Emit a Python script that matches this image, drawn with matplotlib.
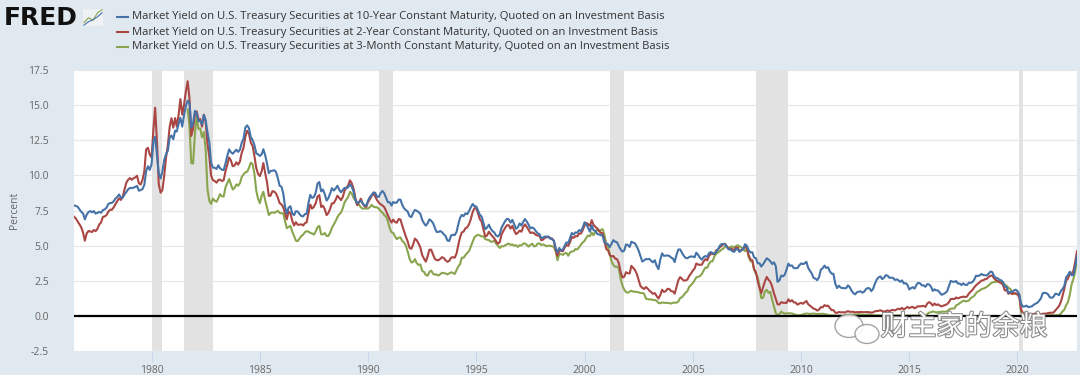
import matplotlib
matplotlib.use("Agg")
import matplotlib.pyplot as plt
import matplotlib.patheffects as pe
from matplotlib.lines import Line2D
from matplotlib.patches import Ellipse
import pandas as pd

plt.rcParams['font.family'] = ['Open Sans', 'Noto Sans CJK SC', 'DejaVu Sans']

# monthly yields, 10-year, Jun 1976 .. Oct 2022
y10 = [
    7.86, 7.83, 7.77, 7.59, 7.41, 7.29, 6.87,
    7.21, 7.39, 7.46, 7.37, 7.46, 7.28, 7.33, 7.40, 7.34, 7.52, 7.58, 7.69,
    7.96, 8.03, 8.04, 8.15, 8.35, 8.46, 8.64, 8.41, 8.42, 8.64, 8.81, 9.01,
    9.10, 9.10, 9.12, 9.18, 9.25, 8.91, 8.95, 9.03, 9.33, 10.30, 10.65, 10.39,
    10.80, 12.41, 12.75, 11.47, 10.18, 9.78, 10.25, 11.10, 11.51, 11.75, 12.68, 12.84,
    12.57, 13.19, 13.12, 13.68, 14.10, 13.47, 14.28, 14.94, 15.32, 15.15, 13.39, 13.72,
    14.59, 14.43, 13.86, 13.87, 13.62, 14.30, 13.95, 13.06, 12.34, 10.91, 10.55, 10.54,
    10.46, 10.72, 10.51, 10.40, 10.38, 10.85, 11.38, 11.85, 11.65, 11.54, 11.69, 11.83,
    11.67, 11.84, 12.32, 12.63, 13.41, 13.56, 13.36, 12.72, 12.52, 12.16, 11.57, 11.50,
    11.38, 11.51, 11.86, 11.43, 10.85, 10.16, 10.31, 10.33, 10.37, 10.24, 9.78, 9.26,
    9.19, 8.70, 7.78, 7.30, 7.71, 7.80, 7.30, 7.17, 7.45, 7.43, 7.25, 7.11,
    7.08, 7.25, 7.25, 8.02, 8.61, 8.40, 8.45, 8.76, 9.42, 9.52, 8.86, 8.99,
    8.67, 8.21, 8.37, 8.72, 9.09, 8.92, 9.06, 9.26, 8.98, 8.80, 8.96, 9.11,
    9.09, 9.17, 9.36, 9.18, 8.86, 8.28, 8.02, 8.11, 8.19, 8.01, 7.87, 7.84,
    8.21, 8.47, 8.59, 8.79, 8.76, 8.48, 8.47, 8.75, 8.89, 8.72, 8.39, 8.08,
    8.09, 7.85, 8.11, 8.04, 8.07, 8.28, 8.27, 7.90, 7.65, 7.53, 7.42, 7.09,
    7.03, 7.34, 7.54, 7.48, 7.39, 7.26, 6.84, 6.59, 6.42, 6.59, 6.87, 6.77,
    6.60, 6.26, 5.98, 5.97, 6.04, 5.96, 5.81, 5.68, 5.36, 5.33, 5.72, 5.77,
    5.75, 5.97, 6.48, 6.97, 7.18, 7.10, 7.30, 7.24, 7.46, 7.74, 7.96, 7.81,
    7.78, 7.47, 7.20, 7.06, 6.63, 6.17, 6.28, 6.49, 6.20, 6.04, 5.93, 5.71,
    5.65, 5.81, 6.27, 6.51, 6.74, 6.91, 6.87, 6.64, 6.83, 6.53, 6.20, 6.30,
    6.58, 6.42, 6.69, 6.89, 6.71, 6.49, 6.22, 6.30, 6.21, 6.03, 5.88, 5.81,
    5.54, 5.57, 5.65, 5.64, 5.65, 5.50, 5.46, 5.34, 4.81, 4.53, 4.83, 4.65,
    4.72, 5.00, 5.23, 5.18, 5.54, 5.90, 5.79, 5.94, 5.92, 6.11, 6.03, 6.28,
    6.66, 6.52, 6.26, 5.99, 6.44, 6.10, 6.05, 5.83, 5.80, 5.74, 5.72, 5.24,
    5.16, 5.10, 4.89, 5.14, 5.39, 5.28, 5.24, 4.97, 4.73, 4.57, 4.65, 5.09,
    5.04, 4.91, 5.28, 5.21, 5.16, 4.93, 4.65, 4.26, 3.87, 3.94, 4.05, 4.03,
    4.05, 3.90, 3.81, 3.96, 3.57, 3.33, 3.98, 4.45, 4.27, 4.29, 4.30, 4.27,
    4.15, 4.08, 3.83, 4.35, 4.72, 4.73, 4.50, 4.28, 4.13, 4.10, 4.19, 4.23,
    4.22, 4.17, 4.50, 4.34, 4.14, 4.00, 4.18, 4.26, 4.20, 4.46, 4.54, 4.47,
    4.42, 4.57, 4.72, 4.99, 5.11, 5.11, 5.09, 4.88, 4.72, 4.73, 4.60, 4.56,
    4.76, 4.72, 4.56, 4.69, 4.75, 5.10, 5.00, 4.67, 4.52, 4.53, 4.15, 4.10,
    3.74, 3.74, 3.51, 3.68, 3.88, 4.10, 4.01, 3.89, 3.69, 3.81, 3.53, 2.42,
    2.52, 2.87, 2.82, 2.93, 3.29, 3.72, 3.56, 3.59, 3.40, 3.39, 3.40, 3.59,
    3.73, 3.69, 3.73, 3.85, 3.42, 3.20, 3.01, 2.70, 2.65, 2.54, 2.76, 3.29,
    3.39, 3.58, 3.41, 3.46, 3.17, 3.00, 3.00, 2.30, 1.98, 2.15, 2.01, 1.98,
    1.97, 1.97, 2.17, 2.05, 1.80, 1.62, 1.53, 1.68, 1.72, 1.75, 1.65, 1.72,
    1.91, 1.98, 1.96, 1.76, 1.93, 2.30, 2.58, 2.74, 2.81, 2.62, 2.72, 2.90,
    2.86, 2.71, 2.72, 2.71, 2.56, 2.60, 2.54, 2.42, 2.53, 2.30, 2.33, 2.21,
    1.88, 1.98, 2.04, 1.94, 2.20, 2.36, 2.32, 2.17, 2.17, 2.07, 2.26, 2.24,
    2.09, 1.78, 1.89, 1.81, 1.81, 1.64, 1.50, 1.56, 1.63, 1.76, 2.14, 2.49,
    2.43, 2.42, 2.48, 2.30, 2.30, 2.19, 2.32, 2.21, 2.20, 2.36, 2.35, 2.40,
    2.58, 2.86, 2.84, 2.87, 2.98, 2.91, 2.89, 2.89, 3.00, 3.15, 3.12, 2.83,
    2.71, 2.68, 2.57, 2.53, 2.40, 2.07, 2.06, 1.63, 1.70, 1.71, 1.81, 1.86,
    1.76, 1.50, 0.87, 0.66, 0.67, 0.73, 0.62, 0.65, 0.68, 0.79, 0.87, 0.93,
    1.08, 1.26, 1.61, 1.64, 1.62, 1.52, 1.32, 1.28, 1.37, 1.58, 1.56, 1.47,
    1.76, 1.93, 2.13, 2.75, 2.90, 3.14, 2.90, 2.90, 3.52, 4.25,
]

# 2-year, Jun 1976 .. Oct 2022
y2 = [
    7.06, 6.94, 6.72, 6.52, 6.30, 5.93, 5.35,
    5.87, 6.04, 6.01, 5.97, 6.11, 6.03, 6.19, 6.51, 6.65, 7.04, 7.08, 7.17,
    7.42, 7.56, 7.55, 7.72, 7.95, 8.17, 8.36, 8.25, 8.48, 8.99, 9.48, 9.69,
    9.81, 9.69, 9.79, 9.86, 9.97, 9.43, 9.35, 9.68, 10.30, 11.85, 11.96, 11.48,
    11.27, 13.29, 14.82, 12.37, 9.37, 8.77, 8.95, 9.96, 11.26, 12.14, 13.45, 14.07,
    13.39, 14.08, 13.47, 14.32, 15.43, 14.33, 15.00, 15.97, 16.70, 15.50, 12.80, 13.32,
    14.38, 14.55, 13.98, 14.01, 13.47, 14.32, 13.80, 12.23, 11.35, 9.98, 9.66, 9.60,
    9.48, 9.68, 9.70, 9.60, 9.65, 10.29, 10.75, 11.27, 11.05, 10.65, 10.71, 10.93,
    10.76, 11.01, 11.61, 11.97, 12.75, 13.18, 12.96, 12.33, 12.08, 11.38, 10.53, 10.11,
    9.95, 10.30, 10.88, 10.15, 9.54, 8.53, 8.56, 8.88, 8.84, 8.71, 8.40, 8.02,
    7.93, 7.72, 7.31, 6.87, 7.43, 7.30, 6.77, 6.43, 6.67, 6.49, 6.49, 6.52,
    6.43, 6.61, 6.65, 7.32, 7.92, 7.64, 7.76, 8.02, 8.49, 8.60, 7.75, 7.84,
    7.59, 7.17, 7.31, 7.63, 8.01, 8.02, 8.25, 8.55, 8.40, 8.24, 8.47, 8.93,
    9.11, 9.31, 9.65, 9.43, 9.04, 8.37, 7.88, 8.08, 8.34, 7.99, 7.81, 7.75,
    8.11, 8.31, 8.54, 8.71, 8.50, 8.24, 8.06, 7.94, 7.86, 7.74, 7.46, 7.15,
    6.86, 6.64, 6.85, 6.68, 6.63, 6.89, 6.86, 6.42, 6.01, 5.63, 5.29, 4.84,
    4.77, 5.09, 5.50, 5.38, 5.16, 4.86, 4.34, 4.07, 3.86, 4.23, 4.71, 4.71,
    4.36, 4.06, 3.97, 3.96, 4.05, 4.18, 4.12, 3.95, 3.85, 3.91, 4.14, 4.18,
    4.14, 4.43, 5.00, 5.58, 5.94, 6.00, 6.23, 6.31, 6.53, 6.90, 7.40, 7.66,
    7.66, 7.27, 6.89, 6.70, 6.15, 5.66, 5.71, 5.99, 5.81, 5.66, 5.51, 5.31,
    5.14, 5.25, 5.78, 6.04, 6.26, 6.45, 6.45, 6.21, 6.41, 6.08, 5.82, 5.91,
    6.07, 5.99, 6.32, 6.51, 6.33, 6.12, 5.90, 5.94, 5.88, 5.77, 5.71, 5.72,
    5.38, 5.43, 5.56, 5.60, 5.61, 5.53, 5.51, 5.36, 4.68, 4.28, 4.64, 4.62,
    4.60, 4.88, 5.05, 4.98, 5.25, 5.62, 5.55, 5.68, 5.66, 5.86, 5.86, 6.10,
    6.44, 6.61, 6.53, 6.40, 6.81, 6.48, 6.34, 6.23, 6.08, 5.91, 5.88, 5.35,
    4.76, 4.66, 4.34, 4.23, 4.26, 4.08, 4.04, 3.76, 3.12, 2.73, 2.78, 3.11,
    3.03, 3.02, 3.56, 3.42, 3.26, 2.99, 2.56, 2.13, 2.00, 1.91, 2.05, 1.94,
    1.79, 1.67, 1.57, 1.62, 1.42, 1.23, 1.47, 1.86, 1.71, 1.75, 1.93, 1.91,
    1.76, 1.74, 1.58, 2.07, 2.53, 2.76, 2.64, 2.51, 2.53, 2.58, 2.85, 3.01,
    3.22, 3.38, 3.73, 3.65, 3.64, 3.64, 3.87, 4.04, 3.95, 4.27, 4.42, 4.40,
    4.40, 4.67, 4.73, 4.89, 4.97, 5.12, 5.12, 4.90, 4.77, 4.80, 4.74, 4.67,
    4.88, 4.85, 4.57, 4.67, 4.77, 4.96, 4.82, 4.31, 4.01, 3.97, 3.34, 3.12,
    2.48, 1.97, 1.62, 2.05, 2.45, 2.77, 2.57, 2.42, 2.08, 1.61, 1.21, 0.82,
    0.81, 0.98, 0.93, 0.93, 0.92, 1.18, 1.02, 1.12, 0.96, 0.95, 0.80, 0.87,
    0.93, 0.86, 0.96, 1.06, 0.83, 0.72, 0.62, 0.52, 0.47, 0.38, 0.45, 0.62,
    0.61, 0.77, 0.70, 0.73, 0.56, 0.41, 0.41, 0.23, 0.21, 0.28, 0.25, 0.26,
    0.24, 0.28, 0.34, 0.29, 0.29, 0.29, 0.25, 0.27, 0.26, 0.28, 0.27, 0.26,
    0.27, 0.27, 0.26, 0.23, 0.25, 0.33, 0.34, 0.36, 0.40, 0.34, 0.30, 0.34,
    0.39, 0.33, 0.40, 0.42, 0.39, 0.45, 0.51, 0.47, 0.57, 0.45, 0.54, 0.64,
    0.55, 0.62, 0.64, 0.54, 0.61, 0.69, 0.67, 0.70, 0.71, 0.64, 0.88, 0.98,
    0.90, 0.73, 0.88, 0.77, 0.82, 0.73, 0.67, 0.74, 0.77, 0.84, 0.98, 1.20,
    1.21, 1.20, 1.31, 1.24, 1.30, 1.34, 1.37, 1.34, 1.38, 1.58, 1.72, 1.84,
    2.03, 2.18, 2.28, 2.38, 2.51, 2.53, 2.61, 2.64, 2.77, 2.86, 2.86, 2.68,
    2.54, 2.50, 2.39, 2.33, 2.21, 1.81, 1.84, 1.57, 1.65, 1.55, 1.61, 1.61,
    1.52, 1.33, 0.45, 0.22, 0.17, 0.19, 0.14, 0.14, 0.13, 0.14, 0.17, 0.14,
    0.13, 0.12, 0.15, 0.16, 0.16, 0.20, 0.22, 0.22, 0.24, 0.39, 0.54, 0.69,
    0.99, 1.45, 1.93, 2.52, 2.65, 2.96, 3.00, 3.20, 3.86, 4.60,
]

# 3-month, Sep 1981 .. Oct 2022
y3m = [
    14.70, 13.54, 10.86, 10.85,
    12.92, 14.28, 13.31, 13.34, 12.71, 13.08, 11.86, 9.00, 8.19, 7.97, 8.35, 8.20,
    8.12, 8.39, 8.66, 8.51, 8.50, 9.14, 9.45, 9.74, 9.36, 8.99, 9.11, 9.36,
    9.26, 9.46, 9.89, 10.07, 10.22, 10.26, 10.53, 10.90, 10.80, 10.12, 8.92, 8.34,
    8.02, 8.56, 8.83, 8.22, 7.73, 7.18, 7.32, 7.37, 7.33, 7.40, 7.48, 7.33,
    7.30, 7.29, 6.76, 6.24, 6.33, 6.40, 6.00, 5.69, 5.35, 5.32, 5.50, 5.68,
    5.78, 5.96, 6.03, 6.00, 5.90, 5.87, 5.78, 6.00, 6.32, 6.40, 5.81, 5.80,
    5.90, 5.69, 5.69, 5.92, 6.27, 6.50, 6.73, 7.02, 7.23, 7.34, 7.68, 8.09,
    8.29, 8.48, 8.83, 8.70, 8.40, 8.22, 7.92, 7.91, 7.72, 7.63, 7.65, 7.64,
    7.64, 7.74, 7.90, 7.77, 7.74, 7.73, 7.62, 7.45, 7.36, 7.17, 7.06, 6.74,
    6.22, 5.94, 5.91, 5.65, 5.46, 5.57, 5.58, 5.33, 5.22, 4.99, 4.56, 4.07,
    3.80, 3.84, 4.04, 3.75, 3.63, 3.66, 3.21, 3.13, 2.91, 2.86, 3.13, 3.22,
    3.00, 2.93, 2.95, 2.87, 2.96, 3.07, 3.04, 3.02, 2.95, 3.02, 3.10, 3.06,
    2.98, 3.25, 3.50, 3.68, 4.14, 4.14, 4.33, 4.48, 4.62, 4.95, 5.29, 5.60,
    5.71, 5.77, 5.73, 5.65, 5.67, 5.47, 5.42, 5.40, 5.28, 5.28, 5.36, 5.14,
    5.00, 4.83, 4.96, 4.95, 5.02, 5.09, 5.15, 5.05, 5.09, 4.99, 5.03, 4.91,
    5.03, 5.01, 5.14, 5.16, 5.05, 4.93, 5.05, 5.14, 4.95, 4.97, 5.14, 5.16,
    5.04, 5.09, 5.03, 4.95, 5.00, 4.98, 4.96, 4.90, 4.61, 3.96, 4.41, 4.39,
    4.34, 4.45, 4.48, 4.28, 4.51, 4.59, 4.60, 4.76, 4.73, 4.88, 5.07, 5.23,
    5.34, 5.57, 5.72, 5.67, 5.92, 5.74, 6.03, 6.13, 6.01, 6.11, 6.17, 5.77,
    5.15, 4.88, 4.42, 3.87, 3.62, 3.49, 3.51, 3.36, 2.64, 2.16, 1.87, 1.69,
    1.65, 1.73, 1.79, 1.72, 1.73, 1.70, 1.68, 1.62, 1.63, 1.58, 1.23, 1.19,
    1.17, 1.17, 1.13, 1.13, 1.07, 0.92, 0.90, 0.95, 0.94, 0.92, 0.93, 0.90,
    0.88, 0.93, 0.94, 0.94, 1.02, 1.27, 1.33, 1.48, 1.65, 1.76, 2.07, 2.19,
    2.33, 2.54, 2.74, 2.78, 2.84, 2.97, 3.22, 3.44, 3.42, 3.71, 3.88, 3.89,
    4.24, 4.43, 4.51, 4.60, 4.72, 4.79, 4.95, 4.96, 4.81, 4.92, 4.94, 4.85,
    4.98, 5.03, 4.94, 4.87, 4.73, 4.61, 4.82, 4.20, 3.89, 3.90, 3.27, 3.00,
    2.75, 2.12, 1.26, 1.29, 1.73, 1.86, 1.63, 1.72, 1.13, 0.67, 0.19, 0.03,
    0.13, 0.30, 0.22, 0.16, 0.18, 0.18, 0.18, 0.17, 0.12, 0.07, 0.05, 0.05,
    0.06, 0.11, 0.15, 0.16, 0.16, 0.12, 0.16, 0.16, 0.15, 0.13, 0.14, 0.14,
    0.15, 0.13, 0.10, 0.06, 0.04, 0.04, 0.04, 0.02, 0.01, 0.02, 0.01, 0.01,
    0.03, 0.09, 0.08, 0.08, 0.09, 0.09, 0.10, 0.10, 0.11, 0.10, 0.09, 0.07,
    0.07, 0.10, 0.09, 0.06, 0.04, 0.05, 0.04, 0.04, 0.02, 0.05, 0.07, 0.07,
    0.04, 0.05, 0.05, 0.03, 0.03, 0.04, 0.03, 0.03, 0.02, 0.02, 0.02, 0.03,
    0.03, 0.02, 0.03, 0.02, 0.02, 0.02, 0.03, 0.07, 0.02, 0.02, 0.13, 0.23,
    0.26, 0.31, 0.29, 0.23, 0.28, 0.27, 0.30, 0.30, 0.29, 0.33, 0.45, 0.51,
    0.52, 0.53, 0.75, 0.81, 0.90, 1.00, 1.09, 1.03, 1.05, 1.09, 1.25, 1.34,
    1.43, 1.62, 1.73, 1.79, 1.90, 1.94, 1.99, 2.07, 2.17, 2.29, 2.37, 2.41,
    2.42, 2.44, 2.45, 2.43, 2.40, 2.22, 2.15, 1.99, 1.93, 1.68, 1.57, 1.57,
    1.55, 1.54, 0.30, 0.14, 0.13, 0.16, 0.13, 0.10, 0.11, 0.10, 0.09, 0.09,
    0.08, 0.04, 0.03, 0.02, 0.02, 0.04, 0.05, 0.05, 0.04, 0.05, 0.05, 0.06,
    0.15, 0.33, 0.44, 0.76, 0.98, 1.49, 2.23, 2.63, 3.13, 4.30,
]

recessions = [("1980-01-01", "1980-07-01"), ("1981-07-01", "1982-11-01"),
              ("1990-07-01", "1991-03-01"), ("2001-03-01", "2001-11-01"),
              ("2007-12-01", "2009-06-01"), ("2020-02-01", "2020-04-01")]

labels = ["Market Yield on U.S. Treasury Securities at 10-Year Constant Maturity, Quoted on an Investment Basis",
          "Market Yield on U.S. Treasury Securities at 2-Year Constant Maturity, Quoted on an Investment Basis",
          "Market Yield on U.S. Treasury Securities at 3-Month Constant Maturity, Quoted on an Investment Basis"]
colors = ["#4572a7", "#aa4643", "#89a54e"]

d10 = pd.date_range("1976-06-01", periods=len(y10), freq="MS")
d2 = pd.date_range("1976-06-01", periods=len(y2), freq="MS")
d3m = pd.date_range("1981-09-01", periods=len(y3m), freq="MS")

W, H = 1080, 375
fig = plt.figure(figsize=(W / 100, H / 100), dpi=100, facecolor="#e1e9f0")
ax = fig.add_axes([74 / W, 1 - 351 / H, (1077 - 74) / W, (351 - 70) / H])
ax.set_facecolor("white")

for a, b in recessions:
    ax.axvspan(pd.Timestamp(a), pd.Timestamp(b), color="#e2e2e2", lw=0, zorder=1)

ax.plot(d3m, y3m, color=colors[2], lw=1.5, zorder=3)
ax.plot(d2, y2, color=colors[1], lw=1.5, zorder=4)
ax.plot(d10, y10, color=colors[0], lw=1.5, zorder=5)
ax.axhline(0, color="black", lw=1.6, zorder=6)

ax.set_ylim(-2.5, 17.5)
ax.set_xlim(d10[0], d10[-1])
ax.set_yticks([-2.5, 0, 2.5, 5, 7.5, 10, 12.5, 15, 17.5])
ax.set_yticklabels(["-2.5", "0.0", "2.5", "5.0", "7.5", "10.0", "12.5", "15.0", "17.5"])
ax.set_xticks([pd.Timestamp(f"{y}-01-01") for y in range(1980, 2021, 5)])
ax.set_xticklabels([str(y) for y in range(1980, 2021, 5)])
ax.grid(axis="y", color="#e8e8e8", lw=0.9, zorder=0)
ax.set_axisbelow(True)
for s in ax.spines.values():
    s.set_visible(False)
ax.tick_params(axis="y", length=0, labelsize=7.5, labelcolor="#666666", pad=18)
ax.tick_params(axis="x", length=8, color="#ccd6eb", labelsize=7.5, labelcolor="#666666", pad=2)
for t in ax.get_yticklabels():
    t.set_horizontalalignment("right")
ax.set_ylabel("Percent", fontsize=7.5, color="#666666", labelpad=6)

# header: FRED logo and legend
fig.text(4 / W, 1 - 18 / H, "FRED", fontsize=18, weight="bold", color="#111111",
         family="DejaVu Sans", va="center", ha="left")
icon = fig.add_axes([83 / W, 1 - 26 / H, 20 / W, 17 / H])
icon.set_facecolor("#eef2f5")
icon.plot([0, 1, 2, 3, 4], [1, 2, 1.5, 3, 3.6], color="#89a54e", lw=0.8)
icon.plot([0, 1, 2, 3, 4], [0.5, 1.2, 1.6, 2.2, 3.0], color="#4572a7", lw=0.8)
icon.set_xticks([]); icon.set_yticks([])
for s in icon.spines.values():
    s.set_visible(False)

for i, (lab, c) in enumerate(zip(labels, colors)):
    yy = 1 - (17 + 15 * i) / H
    fig.add_artist(Line2D([117 / W, 128 / W], [yy, yy], color=c, lw=1.5, transform=fig.transFigure))
    fig.text(132 / W, yy, lab, fontsize=8.1, color="#333333", va="center", ha="left")

# watermark
for cx, cy, w, h in [(849, 326, 28, 23), (867, 334, 24, 19)]:
    fig.add_artist(Ellipse((cx / W, 1 - cy / H), w / W, h / H, transform=fig.transFigure,
                           facecolor="white", edgecolor="#9a9a9a", lw=1.0, alpha=0.9, zorder=10))
fig.text(964 / W, 1 - 327 / H, "财主家的余粮", fontsize=20, color="white",
         family=["Noto Sans CJK SC", "DejaVu Sans"], ha="center", va="center", zorder=11,
         path_effects=[pe.withStroke(linewidth=1.5, foreground="#8a8a8a")])

fig.savefig("out.png", dpi=100, facecolor=fig.get_facecolor())
